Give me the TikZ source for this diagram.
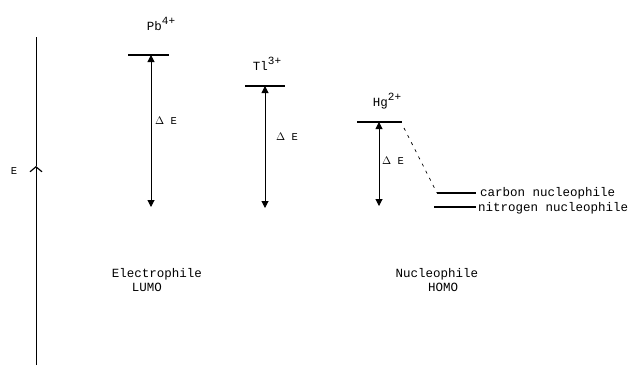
\documentclass[tikz,border=0pt]{standalone}
\usepackage{fontspec}
\setmonofont{Liberation Mono}
\usetikzlibrary{arrows.meta, positioning}

\newcommand{\chg}[1]{\raisebox{6pt}{\fontsize{11}{12}\selectfont #1}}

\begin{document}
\begin{tikzpicture}[x=1pt, y=-1pt,
  lvl/.style={line width=1.4pt},
  gap/.style={{Triangle[length=7pt,width=7pt]}-{Triangle[length=7pt,width=7pt]}, line width=1pt},
  lab/.style={font=\ttfamily\fontsize{12.5}{14}\selectfont, inner sep=1pt},
  small/.style={font=\ttfamily\fontsize{10.5}{12}\selectfont, inner sep=1pt}
]
  \useasboundingbox (0,0) rectangle (634,365);
  % energy axis
  \coordinate (axbot) at (36,365);
  \coordinate (axmid) at (36,166);
  \coordinate (axtop) at (36,37);
  \draw[-{Straight Barb[length=5pt,width=12pt,line width=1.2pt]}, line width=0.8pt] (axbot) -- (axmid);
  \draw[line width=0.8pt] (axmid) -- (axtop);
  \node[small] (elab) at (14,171) {E};

  % Pb
  \coordinate (pbl) at (128,55);
  \coordinate (pbr) at (169,55);
  \coordinate (pbtop) at (151,55);
  \coordinate (pbbot) at (151,207);
  \draw[lvl] (pbl) -- (pbr);
  \draw[gap] (pbtop) -- (pbbot);
  \node[lab] (pb) at (161,24) {Pb\chg{4+}};
  \node[small] (dpb) at (166,121) {$\Delta$ E};

  % Tl
  \coordinate (tll) at (245,86);
  \coordinate (tlr) at (285,86);
  \coordinate (tltop) at (265,86);
  \coordinate (tlbot) at (265,208);
  \draw[lvl] (tll) -- (tlr);
  \draw[gap] (tltop) -- (tlbot);
  \node[lab] (tl) at (267,64) {Tl\chg{3+}};
  \node[small] (dtl) at (287,137) {$\Delta$ E};

  % Hg
  \coordinate (hgl) at (357,122);
  \coordinate (hgr) at (402,122);
  \coordinate (hgtop) at (379,122);
  \coordinate (hgbot) at (379,206);
  \draw[lvl] (hgl) -- (hgr);
  \draw[gap] (hgtop) -- (hgbot);
  \node[lab] (hg) at (387,101) {Hg\chg{2+}};
  \node[small] (dhg) at (393,161) {$\Delta$ E};

  % nucleophile levels
  \coordinate (cl) at (437,193);
  \coordinate (cr) at (476,193);
  \coordinate (nl) at (434,207);
  \coordinate (nr) at (476,207);
  \draw[line width=1.1pt] (cl) -- (cr);
  \draw[line width=1.1pt] (nl) -- (nr);
  \draw[dash pattern=on 3pt off 5pt, line width=0.7pt] (hgr) ++(2,6) coordinate (dash0) -- (cl);
  \node[lab, anchor=west] (cn) at (479,193) {carbon nucleophile};
  \node[lab, anchor=west] (nn) at (477,208) {nitrogen nucleophile};

  % captions
  \node[lab] (el) at (157,274) {Electrophile};
  \node[lab] (lumo) at (147,287) {LUMO};
  \node[lab] (nu) at (437,274) {Nucleophile};
  \node[lab] (homo) at (443,287) {HOMO};
\end{tikzpicture}
\end{document}
